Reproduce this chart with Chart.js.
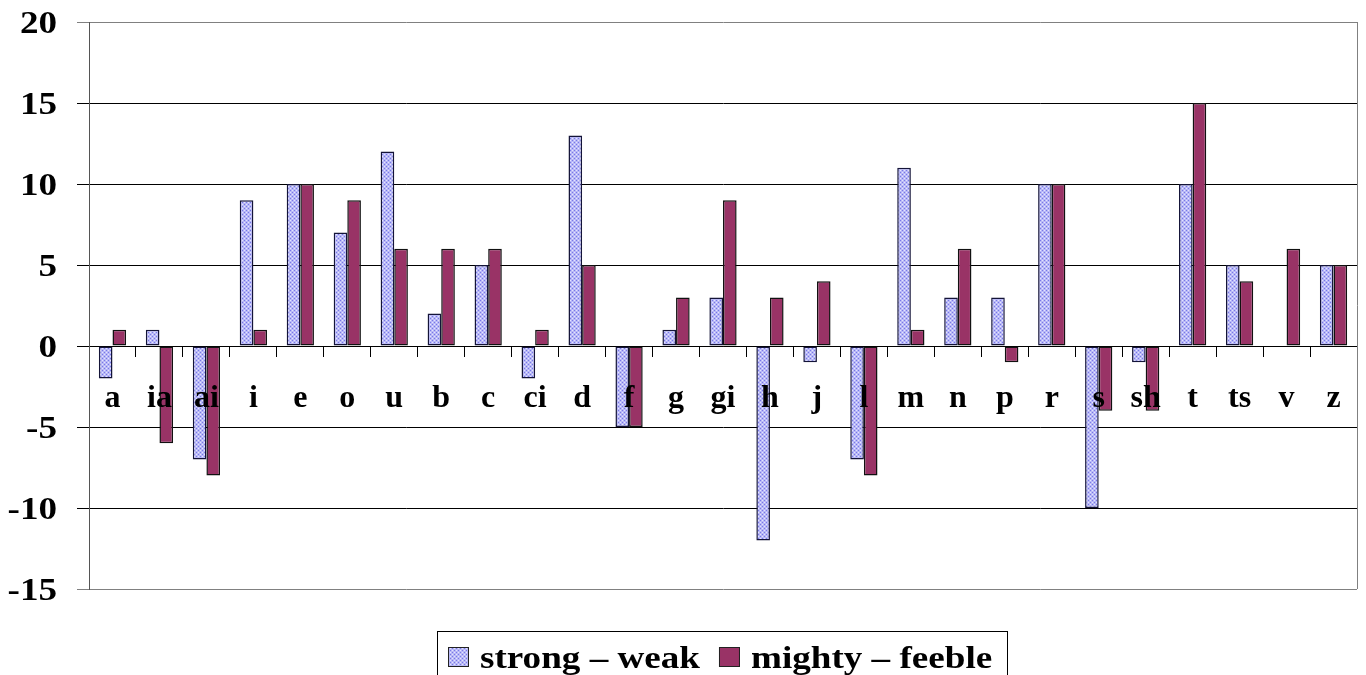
<!DOCTYPE html>
<html>
<head>
<meta charset="utf-8">
<script src="https://cdn.jsdelivr.net/npm/chart.js@4.4.1/dist/chart.umd.min.js"></script>
<style>
  html, body { margin: 0; padding: 0; background: #fff; overflow: hidden; }
  #wrap { width: 1366px; height: 675px; }
</style>
</head>
<body>
<div id="wrap"><canvas id="chart"></canvas></div>
<script>
const categories = ['a', 'ia', 'ai', 'i', 'e', 'o', 'u', 'b', 'c', 'ci', 'd', 'f', 'g', 'gi', 'h', 'j', 'l', 'm', 'n', 'p', 'r', 's', 'sh', 't', 'ts', 'v', 'z'];
const strongWeak = [-2, 1, -7, 9, 10, 7, 12, 2, 5, -2, 13, -5, 1, 3, -12, -1, -7, 11, 3, 3, 10, -10, -1, 10, 5, 0, 5];
const mightyFeeble = [1, -6, -8, 1, 10, 9, 6, 6, 6, 1, 5, -5, 3, 9, 3, 4, -8, 1, 6, -1, 10, -4, -4, 15, 4, 6, 5];
const seriesNames = ['strong \u2013 weak', 'mighty \u2013 feeble'];
const yTicks = [-15, -10, -5, 0, 5, 10, 15, 20];

const serif = '"Liberation Serif", "Times New Roman", serif';
const STRETCH = 1.16; // the source text looks wider than plain Times

// dotted lavender fill like the old Excel pattern
function makePattern() {
  const p = document.createElement('canvas');
  p.width = 4; p.height = 4;
  const g = p.getContext('2d');
  g.fillStyle = '#b8b8f6';
  g.fillRect(0, 0, 4, 4);
  g.fillStyle = '#7878e8';
  g.fillRect(0, 0, 1, 1);
  g.fillRect(2, 2, 1, 1);
  g.fillStyle = '#e4e4ff';
  g.fillRect(2, 0, 1, 1);
  g.fillRect(0, 2, 1, 1);
  return g.createPattern(p, 'repeat');
}
const ctx = document.getElementById('chart').getContext('2d');
const bluePattern = makePattern();

function wideText(c, text, x, y, align) {
  const w = c.measureText(text).width * STRETCH;
  let left = x;
  if (align === 'right') left = x - w;
  if (align === 'center') left = x - w / 2;
  c.save();
  c.translate(left, y);
  c.scale(STRETCH, 1);
  c.textAlign = 'left';
  c.fillText(text, 0, 0);
  c.restore();
  return w;
}

// category labels go on top of the bars, like in the source
const labelsPlugin = {
  id: 'catLabels',
  afterDatasetsDraw(chart) {
    const c = chart.ctx;
    const xs = chart.scales.x;
    const y0 = chart.scales.y.getPixelForValue(0);
    c.save();
    c.fillStyle = '#000';
    c.font = 'bold 32px ' + serif;
    c.textAlign = 'center';
    c.textBaseline = 'alphabetic';
    categories.forEach((lab, i) => {
      c.fillText(lab, xs.getPixelForValue(i), y0 + 61);
    });
    c.restore();
  }
};

// y tick labels, right frame line and the legend box
const framePlugin = {
  id: 'frame',
  afterDraw(chart) {
    const c = chart.ctx;
    const a = chart.chartArea;
    const ys = chart.scales.y;
    c.save();
    c.strokeStyle = '#808080';
    c.lineWidth = 1;
    c.beginPath();
    c.moveTo(a.right + 0.5, a.top);
    c.lineTo(a.right + 0.5, a.bottom);
    c.stroke();

    c.fillStyle = '#000';
    c.font = 'bold 32px ' + serif;
    c.textBaseline = 'alphabetic';
    yTicks.forEach(v => {
      wideText(c, String(v), 57, ys.getPixelForValue(v) + 11, 'right');
    });

    // legend
    c.strokeStyle = '#000';
    c.strokeRect(437.5, 631.5, 570, 60);
    const sw = [bluePattern, '#993366'];
    let x = 448;
    seriesNames.forEach((name, i) => {
      c.fillStyle = sw[i];
      c.fillRect(x, 647, 21, 20);
      c.strokeStyle = '#222';
      c.strokeRect(x + 0.5, 647.5, 20, 19);
      c.fillStyle = '#000';
      const w = wideText(c, name, x + 32, 668, 'left');
      x = x + 32 + w + 19;
    });
    c.restore();
  }
};

new Chart(ctx, {
  type: 'bar',
  data: {
    labels: categories,
    datasets: [
      {
        label: seriesNames[0],
        data: strongWeak,
        backgroundColor: bluePattern,
        borderColor: '#141438',
        borderWidth: 1.5,
        borderSkipped: false,
      },
      {
        label: seriesNames[1],
        data: mightyFeeble,
        backgroundColor: '#993366',
        borderColor: '#111',
        borderWidth: 1.5,
        borderSkipped: false,
      },
    ],
  },
  options: {
    responsive: true,
    maintainAspectRatio: false,
    animation: false,
    layout: { padding: { top: 22, right: 9, left: 0, bottom: 86 } },
    datasets: { bar: { categoryPercentage: 0.58, barPercentage: 1.0 } },
    scales: {
      x: {
        position: { y: 0 },
        grid: {
          offset: true,
          drawOnChartArea: false,
          drawTicks: true,
          tickLength: 10,
          color: '#000',
        },
        border: { display: true, color: '#000', width: 1 },
        ticks: { display: false, autoSkip: false },
      },
      y: {
        min: -15,
        max: 20,
        afterBuildTicks(scale) {
          scale.ticks = yTicks.map(v => ({ value: v }));
        },
        afterFit(scale) {
          scale.width = 89;
          scale.paddingTop = 0;
          scale.paddingBottom = 0;
        },
        grid: {
          color: (c) => (c.tick && (c.tick.value === 20 || c.tick.value === -15)) ? '#808080' : '#000',
          tickLength: 12,
          drawTicks: true,
        },
        border: { display: true, color: '#555', width: 1 },
        ticks: { display: false },
      },
    },
    plugins: {
      legend: { display: false },
      tooltip: { enabled: false },
    },
  },
  plugins: [labelsPlugin, framePlugin],
});
</script>
</body>
</html>
